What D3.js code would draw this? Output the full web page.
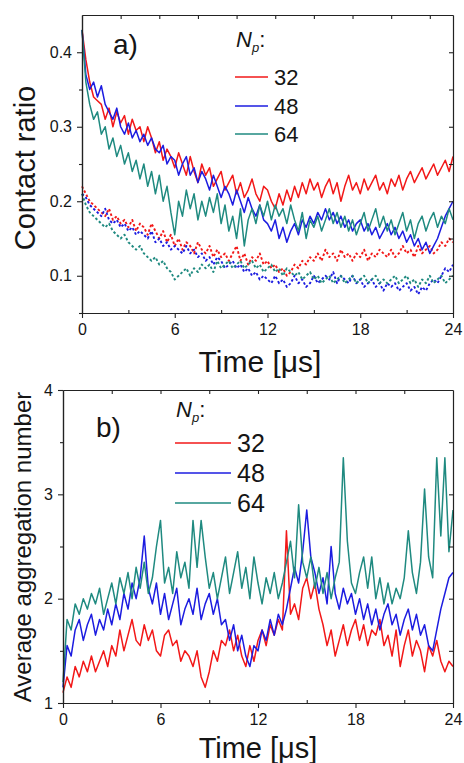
<!DOCTYPE html>
<html>
<head>
<meta charset="utf-8">
<script src="https://cdn.jsdelivr.net/npm/d3@7"></script>
<style>
body{margin:0;background:#fff;}
svg text{font-family:"Liberation Sans",Arial,sans-serif;fill:#151515;}
</style>
</head>
<body>
<div id="wrapper"></div>
<script>
// sampling step of every series, in microseconds
const step = 0.25;
const seriesNames = ["32", "48", "64"];

// a) contact ratio, solid curves
const ratioSolid32 = [
 0.43,0.39,0.36,0.34, 0.335,0.33,0.31,0.325, 0.30,0.32,0.305,0.315, 0.29,0.31,0.295,0.30,
 0.28,0.30,0.285,0.265, 0.28,0.255,0.27,0.26, 0.245,0.265,0.25,0.235, 0.26,0.24,0.225,0.25,
 0.235,0.245,0.22,0.23, 0.24,0.215,0.225,0.235, 0.21,0.225,0.205,0.215, 0.23,0.21,0.20,0.22,
 0.215,0.20,0.19,0.21, 0.195,0.215,0.20,0.22, 0.205,0.225,0.21,0.23, 0.215,0.225,0.205,0.22,
 0.23,0.21,0.225,0.20, 0.22,0.235,0.215,0.225, 0.21,0.23,0.215,0.225, 0.235,0.215,0.225,0.21,
 0.23,0.22,0.235,0.215, 0.23,0.24,0.225,0.235, 0.245,0.23,0.24,0.25, 0.235,0.245,0.255,0.24,
 0.26];
const ratioSolid48 = [
 0.43,0.37,0.35,0.36, 0.34,0.355,0.33,0.32, 0.31,0.325,0.30,0.29, 0.305,0.285,0.295,0.28,
 0.29,0.275,0.285,0.27, 0.265,0.275,0.25,0.26, 0.255,0.235,0.25,0.26, 0.235,0.245,0.225,0.24,
 0.23,0.215,0.235,0.22, 0.205,0.22,0.21,0.195, 0.215,0.20,0.185,0.205, 0.19,0.18,0.195,0.175,
 0.17,0.16,0.175,0.15, 0.165,0.145,0.16,0.17, 0.155,0.175,0.165,0.18, 0.17,0.185,0.175,0.19,
 0.175,0.185,0.17,0.18, 0.165,0.175,0.16,0.17, 0.175,0.16,0.17,0.155, 0.165,0.15,0.16,0.17,
 0.155,0.165,0.15,0.16, 0.145,0.155,0.14,0.15, 0.135,0.145,0.13,0.14, 0.15,0.165,0.18,0.19,
 0.20];
const ratioSolid64 = [
 0.43,0.36,0.33,0.31, 0.32,0.29,0.30,0.27, 0.285,0.26,0.275,0.25, 0.265,0.24,0.255,0.23,
 0.25,0.22,0.24,0.21, 0.235,0.20,0.22,0.185, 0.155,0.20,0.18,0.215, 0.19,0.21,0.175,0.20,
 0.18,0.205,0.185,0.21, 0.17,0.195,0.16,0.18, 0.15,0.19,0.14,0.175, 0.19,0.17,0.195,0.18,
 0.20,0.175,0.195,0.18, 0.19,0.17,0.195,0.175, 0.16,0.185,0.15,0.175, 0.165,0.18,0.16,0.175,
 0.19,0.17,0.185,0.165, 0.18,0.16,0.175,0.155, 0.17,0.185,0.16,0.175, 0.19,0.165,0.18,0.16,
 0.175,0.155,0.17,0.185, 0.16,0.175,0.15,0.17, 0.18,0.16,0.175,0.185, 0.165,0.18,0.17,0.19,
 0.175];

// a) contact ratio, dashed curves
const ratioDash32 = [
 0.22,0.21,0.20,0.195, 0.19,0.185,0.18,0.19, 0.175,0.18,0.17,0.175, 0.165,0.175,0.16,0.17,
 0.165,0.155,0.17,0.16, 0.15,0.16,0.145,0.155, 0.14,0.15,0.135,0.145, 0.14,0.13,0.145,0.135,
 0.13,0.14,0.125,0.135, 0.125,0.13,0.12,0.13, 0.14,0.12,0.13,0.115, 0.125,0.12,0.13,0.115,
 0.12,0.11,0.115,0.105, 0.11,0.10,0.105,0.115, 0.11,0.12,0.115,0.125, 0.12,0.13,0.12,0.135,
 0.125,0.13,0.12,0.135, 0.125,0.13,0.12,0.13, 0.125,0.135,0.12,0.13, 0.125,0.135,0.13,0.125,
 0.135,0.125,0.13,0.14, 0.13,0.135,0.125,0.14, 0.13,0.135,0.14,0.13, 0.135,0.145,0.14,0.15,
 0.145];
const ratioDash48 = [
 0.21,0.205,0.195,0.19, 0.185,0.18,0.19,0.175, 0.17,0.175,0.165,0.17, 0.16,0.165,0.155,0.16,
 0.155,0.15,0.16,0.145, 0.15,0.14,0.145,0.135, 0.14,0.135,0.13,0.14, 0.13,0.135,0.125,0.13,
 0.12,0.125,0.115,0.125, 0.12,0.11,0.115,0.12, 0.11,0.115,0.105,0.11, 0.10,0.105,0.095,0.10,
 0.095,0.09,0.10,0.09, 0.095,0.085,0.09,0.10, 0.09,0.095,0.085,0.09, 0.10,0.09,0.095,0.10,
 0.095,0.105,0.09,0.10, 0.095,0.09,0.10,0.09, 0.095,0.085,0.09,0.095, 0.085,0.09,0.08,0.09,
 0.085,0.09,0.08,0.085, 0.09,0.08,0.085,0.075, 0.085,0.08,0.09,0.095, 0.09,0.10,0.11,0.105,
 0.115];
const ratioDash64 = [
 0.21,0.195,0.185,0.18, 0.175,0.17,0.165,0.17, 0.16,0.155,0.15,0.155, 0.145,0.14,0.135,0.14,
 0.13,0.125,0.12,0.125, 0.115,0.12,0.11,0.105, 0.095,0.10,0.105,0.11, 0.10,0.11,0.105,0.115,
 0.11,0.115,0.105,0.12, 0.11,0.115,0.12,0.11, 0.115,0.12,0.11,0.115, 0.12,0.11,0.115,0.105,
 0.11,0.115,0.105,0.11, 0.10,0.11,0.105,0.10, 0.105,0.095,0.10,0.105, 0.095,0.10,0.09,0.095,
 0.10,0.09,0.095,0.10, 0.09,0.095,0.10,0.09, 0.095,0.10,0.09,0.095, 0.10,0.09,0.095,0.09,
 0.095,0.10,0.09,0.095, 0.10,0.09,0.095,0.085, 0.095,0.09,0.10,0.09, 0.095,0.10,0.09,0.095,
 0.10];

// b) average aggregation number
const aggr32 = [
 1.10,1.25,1.15,1.35, 1.25,1.40,1.30,1.45, 1.30,1.40,1.50,1.35, 1.55,1.45,1.70,1.50,
 1.65,1.80,1.60,1.55, 1.75,1.60,1.70,1.50, 1.45,1.65,1.70,1.55, 1.60,1.40,1.50,1.45,
 1.35,1.50,1.25,1.15, 1.30,1.50,1.40,1.60, 1.55,1.70,1.50,1.65, 1.45,1.35,1.55,1.40,
 1.60,1.70,1.55,1.75, 1.65,1.80,1.70,2.65, 1.85,1.95,1.80,2.10, 2.20,2.00,2.15,1.90,
 1.75,1.55,1.70,1.45, 1.60,1.75,1.55,1.70, 1.80,1.60,1.75,1.55, 1.70,1.65,1.80,1.55,
 1.65,1.45,1.70,1.35, 1.55,1.70,1.45,1.60, 1.50,1.30,1.55,1.45, 1.60,1.40,1.30,1.40,
 1.35];
const aggr48 = [
 1.15,1.55,1.45,1.70, 1.80,1.60,1.75,1.85, 1.65,1.80,1.70,1.90, 1.75,1.95,1.80,2.05,
 1.90,2.15,2.00,2.20, 2.60,2.10,1.95,2.15, 1.85,2.05,1.80,1.95, 2.10,1.75,1.90,2.00,
 1.85,2.10,1.80,1.95, 2.05,1.85,2.00,1.75, 1.80,1.60,1.75,1.50, 1.65,1.45,1.35,1.55,
 1.50,1.70,1.60,1.80, 1.65,1.85,1.75,1.90, 2.10,2.30,2.15,2.45, 2.85,2.40,2.25,2.05,
 2.20,1.95,2.50,2.05, 1.90,2.10,1.95,2.05, 1.85,2.00,1.80,1.95, 1.75,1.90,1.70,1.85,
 1.95,1.75,1.85,1.65, 1.80,1.90,1.70,1.85, 1.65,1.75,1.55,1.50, 1.70,1.90,2.05,2.20,
 2.25];
const aggr64 = [
 1.20,1.80,1.70,1.95, 1.85,2.00,1.90,2.05, 1.95,2.10,1.85,2.00, 2.15,1.95,2.20,2.05,
 2.25,2.00,2.30,2.10, 2.35,2.05,2.20,2.50, 2.75,2.15,2.30,2.05, 2.45,2.20,2.35,2.10,
 2.75,2.30,2.75,2.40, 2.10,2.25,2.00,2.20, 2.40,2.05,2.25,2.45, 2.10,2.30,2.00,2.40,
 2.15,1.95,2.20,2.05, 2.25,2.00,2.15,2.35, 2.55,2.20,2.90,2.35, 2.20,2.40,2.10,2.30,
 2.05,2.25,2.00,2.20, 2.35,3.35,2.55,2.15, 2.05,2.25,2.40,2.10, 2.40,2.00,2.20,1.95,
 2.15,1.95,2.10,2.00, 2.20,2.65,2.25,2.05, 2.35,3.05,2.40,2.20, 3.35,2.60,3.35,2.45,
 2.85];

// ticks
const timeMajor = [0, 6, 12, 18, 24];
const timeMinor = [3, 9, 15, 21];
const timeTopA = [2.5, 5, 7.5, 10, 12.5, 15, 17.5, 20, 22.5];
const ratioMajor = [0.1, 0.2, 0.3, 0.4];
const ratioMinor = [0.05, 0.15, 0.25, 0.35];
const ratioRight = [0.1, 0.15, 0.2, 0.25, 0.3, 0.35, 0.4];
const aggrMajor = [1, 2, 3, 4];
const aggrMinor = [1.5, 2.5, 3.5];

const color = d3.scaleOrdinal().domain(seriesNames).range(["#f21818", "#1c1ce0", "#1f8a80"]);

const width = 464, height = 763;
const svg = d3.select("#wrapper").append("svg").attr("width", width).attr("height", height);

// Panel a
const xA = d3.scaleLinear().domain([0, 24]).range([82, 453]);
const yA = d3.scaleLinear().domain([0.05, 0.45]).range([313, 15]);
// Panel b
const xB = d3.scaleLinear().domain([0, 24]).range([63, 453]);
const yB = d3.scaleLinear().domain([1, 4]).range([703, 390]);

function drawSeries(x, y, values, name, dashed) {
  const line = d3.line().x((d, i) => x(i * step)).y(d => y(d));
  svg.append("path").datum(values)
    .attr("d", line).attr("fill", "none")
    .attr("stroke", color(name))
    .attr("stroke-width", dashed ? 1.9 : 1.5)
    .attr("stroke-linejoin", "round")
    .attr("stroke-dasharray", dashed ? "2.5,2.2" : null);
}

drawSeries(xA, yA, ratioDash32, "32", true);
drawSeries(xA, yA, ratioDash48, "48", true);
drawSeries(xA, yA, ratioDash64, "64", true);
drawSeries(xA, yA, ratioSolid32, "32", false);
drawSeries(xA, yA, ratioSolid48, "48", false);
drawSeries(xA, yA, ratioSolid64, "64", false);

drawSeries(xB, yB, aggr32, "32", false);
drawSeries(xB, yB, aggr48, "48", false);
drawSeries(xB, yB, aggr64, "64", false);

function styleAxis(g, fontSize) {
  g.selectAll(".domain").attr("stroke", "#222").attr("stroke-width", 1.2);
  g.selectAll(".tick line").attr("stroke", "#222").attr("stroke-width", 1.1);
  g.selectAll("text").attr("font-size", fontSize).attr("fill", "#151515")
    .attr("font-family", "Liberation Sans, Arial, sans-serif");
}

function drawFrame(x, y, o) {
  const [x0, x1] = x.range();
  const [y0, y1] = y.range();
  // bottom
  svg.append("g").attr("transform", `translate(0,${y0})`)
    .call(d3.axisBottom(x).tickValues(timeMinor).tickSize(-3).tickSizeOuter(0).tickFormat(""))
    .call(styleAxis, o.fontSize);
  svg.append("g").attr("transform", `translate(0,${y0})`)
    .call(d3.axisBottom(x).tickValues(timeMajor).tickSize(5).tickSizeOuter(0).tickPadding(o.xPad).tickFormat(d3.format("d")))
    .call(styleAxis, o.fontSize);
  // top
  svg.append("g").attr("transform", `translate(0,${y1})`)
    .call(d3.axisTop(x).tickValues(o.topTicks).tickSize(-4).tickSizeOuter(0).tickFormat(""))
    .call(styleAxis, o.fontSize);
  // left
  svg.append("g").attr("transform", `translate(${x0},0)`)
    .call(d3.axisLeft(y).tickValues(o.yMinor).tickSize(3).tickSizeOuter(0).tickFormat(""))
    .call(styleAxis, o.fontSize);
  svg.append("g").attr("transform", `translate(${x0},0)`)
    .call(d3.axisLeft(y).tickValues(o.yMajor).tickSize(5).tickSizeOuter(0).tickPadding(o.yPad).tickFormat(o.yFormat))
    .call(styleAxis, o.fontSize);
  // right
  svg.append("g").attr("transform", `translate(${x1},0)`)
    .call(d3.axisRight(y).tickValues(o.rightTicks).tickSize(-4).tickSizeOuter(0).tickFormat(""))
    .call(styleAxis, o.fontSize);
}

drawFrame(xA, yA, {
  fontSize: 16, xPad: 6, yPad: 5, topTicks: timeTopA,
  yMinor: ratioMinor, yMajor: ratioMajor, yFormat: d3.format(".1f"), rightTicks: ratioRight
});
drawFrame(xB, yB, {
  fontSize: 16, xPad: 6, yPad: 5, topTicks: timeMinor.concat(timeMajor.slice(1, 4)),
  yMinor: aggrMinor, yMajor: aggrMajor, yFormat: d3.format("d"), rightTicks: aggrMinor.concat([2, 3])
});

// axis titles
svg.append("text").attr("x", 260).attr("y", 372).attr("text-anchor", "middle")
  .attr("font-size", 30).text("Time [\u03bcs]");
svg.append("text").attr("x", 258).attr("y", 758).attr("text-anchor", "middle")
  .attr("font-size", 29).text("Time [\u03bcs]");
svg.append("text").attr("transform", "translate(35,168) rotate(-90)").attr("text-anchor", "middle")
  .attr("font-size", 29).text("Contact ratio");
svg.append("text").attr("transform", "translate(31,547) rotate(-90)").attr("text-anchor", "middle")
  .attr("font-size", 24).text("Average aggregation number");

// panel letters
svg.append("text").attr("x", 113).attr("y", 54).attr("font-size", 28).text("a)");
svg.append("text").attr("x", 96).attr("y", 437).attr("font-size", 28).text("b)");

// legends
function drawLegend(x0, x1, ys, textX, fontSize, titleX, titleY) {
  const title = svg.append("text").attr("x", titleX).attr("y", titleY)
    .attr("font-size", 22).attr("font-style", "italic");
  title.append("tspan").text("N");
  title.append("tspan").attr("font-size", 13).attr("dy", 5).text("p");
  title.append("tspan").attr("dy", -5).attr("font-style", "normal").text(":");
  seriesNames.forEach((name, i) => {
    svg.append("line").attr("x1", x0).attr("x2", x1).attr("y1", ys[i]).attr("y2", ys[i])
      .attr("stroke", color(name)).attr("stroke-width", 1.5);
    svg.append("text").attr("x", textX).attr("y", ys[i] + fontSize * 0.36)
      .attr("font-size", fontSize).text(name);
  });
}
drawLegend(235, 268, [77, 106, 134], 274, 22, 236, 47);
drawLegend(175, 231, [443, 473, 503], 237, 25, 176, 417);
</script>
</body>
</html>
